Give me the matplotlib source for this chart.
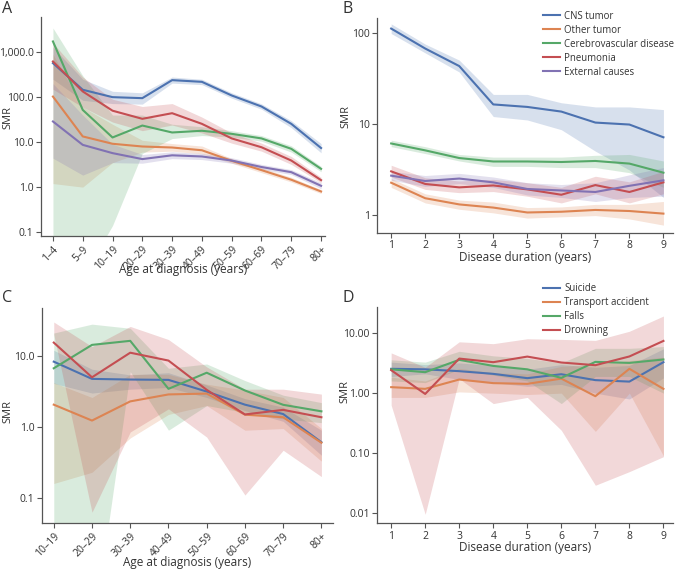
import matplotlib
matplotlib.use('Agg')
import matplotlib.pyplot as plt
import matplotlib.ticker as mticker

plt.rcParams['font.family'] = ['Open Sans', 'DejaVu Sans']
plt.rcParams['text.color'] = '#333333'
plt.rcParams['axes.labelcolor'] = '#333333'
plt.rcParams['xtick.color'] = '#333333'
plt.rcParams['ytick.color'] = '#333333'

blue = '#4C72B0'
orange = '#DD8452'
green = '#55A868'
red = '#C44E52'
purple = '#8172B3'

# panel A: cause of death by age at diagnosis
ages_a = ['1–4', '5–9', '10–19', '20–29', '30–39', '40–49', '50–59', '60–69', '70–79', '80+']
cns = [570, 146, 100, 95, 239, 219, 109, 62, 25.5, 7.4]
cns_lo = [250, 85, 72, 70, 205, 190, 95, 54, 21, 5.8]
cns_hi = [1300, 250, 135, 125, 280, 250, 125, 71, 30, 9.3]
other = [103, 13.4, 9.2, 8.0, 7.6, 6.6, 3.85, 2.39, 1.46, 0.80]
other_lo = [1.2, 1.0, 3.5, 6.0, 6.3, 5.5, 3.4, 2.1, 1.3, 0.72]
other_hi = [900, 60, 25, 11, 9.3, 8.2, 4.3, 2.7, 1.65, 0.88]
cereb = [1730, 52, 12.7, 23.4, 16.4, 17.9, 15.3, 12.1, 7.1, 2.55]
cereb_lo = [0.01, 0.01, 0.14, 5.6, 12, 14, 13, 10.5, 6.0, 2.2]
cereb_hi = [3450, 300, 40, 40, 25, 22, 18, 14, 8.3, 2.9]
pneu = [621, 134, 50, 33, 44, 25.5, 12.1, 7.7, 3.9, 1.43]
pneu_lo = [150, 60, 28, 18, 24, 16, 9.5, 6.3, 3.2, 1.25]
pneu_hi = [1600, 280, 90, 62, 72, 36, 16, 9.5, 4.8, 1.65]
ext = [28.8, 8.7, 5.7, 4.2, 5.1, 4.8, 3.9, 2.8, 2.15, 1.07]
ext_lo = [4.4, 1.85, 3.5, 3.4, 4.3, 4.1, 3.4, 2.5, 1.9, 0.92]
ext_hi = [200, 40, 9, 5.3, 6.1, 5.6, 4.5, 3.2, 2.45, 1.25]

# panel B: cause of death by disease duration
years = [1, 2, 3, 4, 5, 6, 7, 8, 9]
cns_b = [111, 67, 43, 16.3, 15.3, 13.6, 10.3, 9.8, 7.1]
cns_b_lo = [98, 60, 37, 12, 11, 8.6, 5.0, 3.1, 1.55]
cns_b_hi = [125, 75, 50, 21, 21, 17, 15.3, 15.3, 14.3]
other_b = [2.25, 1.52, 1.30, 1.2, 1.06, 1.08, 1.13, 1.1, 1.03]
other_b_lo = [2.0, 1.35, 1.15, 1.05, 0.92, 0.95, 0.98, 0.9, 0.77]
other_b_hi = [2.5, 1.7, 1.45, 1.38, 1.2, 1.22, 1.3, 1.3, 1.4]
cereb_b = [6.07, 5.1, 4.2, 3.85, 3.85, 3.8, 3.9, 3.65, 2.9]
cereb_b_lo = [5.6, 4.7, 3.9, 3.4, 3.4, 3.3, 3.3, 2.9, 2.0]
cereb_b_hi = [6.6, 5.6, 4.6, 4.3, 4.3, 4.3, 4.5, 4.6, 3.9]
pneu_b = [3.0, 2.18, 2.0, 2.1, 1.9, 1.66, 2.12, 1.78, 2.27]
pneu_b_lo = [2.6, 1.9, 1.75, 1.8, 1.6, 1.35, 1.7, 1.35, 1.7]
pneu_b_hi = [3.5, 2.55, 2.35, 2.45, 2.25, 2.0, 2.65, 2.3, 3.0]
ext_b = [2.69, 2.35, 2.5, 2.27, 1.92, 1.85, 1.78, 2.08, 2.39]
ext_b_lo = [2.4, 2.05, 2.2, 2.0, 1.65, 1.55, 1.4, 1.55, 1.6]
ext_b_hi = [3.0, 2.7, 2.85, 2.6, 2.25, 2.15, 2.25, 2.75, 3.3]

# panel C: external causes by age at diagnosis
ages_c = ['10–19', '20–29', '30–39', '40–49', '50–59', '60–69', '70–79', '80+']
suic = [8.3, 4.75, 4.65, 4.6, 3.15, 2.06, 1.52, 0.61]
suic_lo = [4.1, 3.0, 3.4, 3.6, 2.6, 1.7, 1.2, 0.4]
suic_hi = [12, 6.5, 5.4, 5.8, 3.9, 2.5, 1.9, 0.9]
trans = [2.06, 1.23, 2.29, 2.87, 2.95, 1.49, 1.37, 0.6]
trans_lo = [0.16, 0.23, 0.7, 1.5, 2.0, 0.9, 0.95, 0.33]
trans_hi = [4.2, 2.6, 5.5, 5.5, 4.0, 3.3, 2.6, 0.95]
falls = [6.7, 14.3, 16.3, 3.44, 5.8, 3.26, 2.05, 1.66]
falls_lo = [0.001, 0.001, 6, 0.9, 2.0, 1.6, 1.3, 1.15]
falls_hi = [21, 28, 24.5, 6.7, 7.7, 4.5, 2.8, 2.2]
drown = [15.4, 5.0, 11.1, 8.6, 3.33, 1.5, 1.74, 1.37]
drown_lo = [20, 0.063, 0.85, 1.8, 0.72, 0.11, 0.47, 0.2]
drown_hi = [30, 13.5, 26, 17, 7, 3.4, 3.4, 2.9]

# panel D: external causes by disease duration
suic_d = [2.55, 2.5, 2.33, 2.1, 1.78, 2.07, 1.65, 1.56, 3.29]
suic_d_lo = [1.9, 2.1, 1.7, 1.5, 1.3, 1.4, 1.0, 0.8, 1.8]
suic_d_hi = [3.3, 3.0, 3.2, 2.9, 2.5, 3.0, 2.7, 2.9, 5.5]
trans_d = [1.26, 1.18, 1.69, 1.47, 1.43, 1.75, 0.89, 2.55, 1.18]
trans_d_lo = [0.85, 0.85, 1.05, 1.0, 0.95, 1.0, 0.23, 1.0, 0.09]
trans_d_hi = [1.85, 1.6, 2.6, 2.2, 2.1, 2.8, 3.0, 3.5, 4.0]
falls_d = [2.5, 2.24, 3.6, 2.85, 2.5, 1.8, 3.33, 3.2, 3.65]
falls_d_lo = [1.6, 1.5, 2.5, 2.0, 1.6, 0.67, 1.9, 1.9, 1.0]
falls_d_hi = [3.6, 3.3, 5.0, 4.2, 3.8, 3.2, 5.6, 5.6, 6.0]
drown_d = [2.42, 0.97, 3.78, 3.29, 4.08, 3.25, 2.93, 4.1, 7.45]
drown_d_lo = [0.63, 0.0095, 1.75, 0.67, 0.85, 0.24, 0.029, 0.049, 0.087]
drown_d_hi = [4.7, 2.7, 7.2, 6.7, 8.1, 7.9, 7.6, 10.8, 19.4]

fig = plt.figure(figsize=(6.76, 5.72), dpi=100)
axA = fig.add_axes([0.0607, 0.587, 0.420, 0.383])
axB = fig.add_axes([0.558, 0.593, 0.438, 0.376])
axC = fig.add_axes([0.062, 0.0857, 0.431, 0.376])
axD = fig.add_axes([0.558, 0.0857, 0.438, 0.377])


def draw(ax, x, y, lo, hi, color, label):
    ax.fill_between(x, lo, hi, color=color, alpha=0.22, linewidth=0)
    ax.plot(x, y, color=color, lw=1.5, label=label)


def style(ax, fmt, xlabel, ylab_xy, xlab_xy):
    ax.set_yscale('log')
    ax.yaxis.set_major_formatter(mticker.FuncFormatter(fmt))
    ax.yaxis.set_minor_locator(mticker.NullLocator())
    for s in ['top', 'right']:
        ax.spines[s].set_visible(False)
    for s in ['left', 'bottom']:
        ax.spines[s].set_color('#555555')
        ax.spines[s].set_linewidth(0.9)
    ax.tick_params(labelsize=7.5, length=3.5, width=0.8, color='#555555', pad=2)
    ax.set_ylabel('SMR', fontsize=8)
    ax.set_xlabel(xlabel, fontsize=8.5)
    ax.yaxis.set_label_coords(*ylab_xy)
    ax.xaxis.set_label_coords(*xlab_xy)


leg_kw = dict(loc='upper left', frameon=False, fontsize=6.9, handlelength=1.77,
              labelspacing=0.31, handletextpad=0.4, borderaxespad=0)

# A
xa = list(range(len(ages_a)))
draw(axA, xa, cns, cns_lo, cns_hi, blue, 'CNS tumor')
draw(axA, xa, other, other_lo, other_hi, orange, 'Other tumor')
draw(axA, xa, cereb, cereb_lo, cereb_hi, green, 'Cerebrovascular disease')
draw(axA, xa, pneu, pneu_lo, pneu_hi, red, 'Pneumonia')
draw(axA, xa, ext, ext_lo, ext_hi, purple, 'External causes')
style(axA, lambda v, p: f'{v:,.1f}', 'Age at diagnosis (years)', (-0.097, 0.54), (0.5, -0.123))
axA.set_yticks([0.1, 1, 10, 100, 1000])
axA.set_ylim(0.081, 6000)
axA.set_xlim(-0.4, 9.13)
axA.set_xticks(xa)
axA.set_xticklabels(ages_a, rotation=45, ha='right', rotation_mode='anchor')

# B
draw(axB, years, cns_b, cns_b_lo, cns_b_hi, blue, 'CNS tumor')
draw(axB, years, other_b, other_b_lo, other_b_hi, orange, 'Other tumor')
draw(axB, years, cereb_b, cereb_b_lo, cereb_b_hi, green, 'Cerebrovascular disease')
draw(axB, years, pneu_b, pneu_b_lo, pneu_b_hi, red, 'Pneumonia')
draw(axB, years, ext_b, ext_b_lo, ext_b_hi, purple, 'External causes')
style(axB, lambda v, p: f'{v:.0f}', 'Disease duration (years)', (-0.086, 0.54), (0.5, -0.084))
axB.set_yticks([1, 10, 100])
axB.set_ylim(0.634, 146)
axB.set_xlim(0.59, 9.29)
axB.set_xticks(years)
axB.legend(bbox_to_anchor=(0.548, 1.05), **leg_kw)

# C
xc = list(range(len(ages_c)))
draw(axC, xc, suic, suic_lo, suic_hi, blue, 'Suicide')
draw(axC, xc, trans, trans_lo, trans_hi, orange, 'Transport accident')
draw(axC, xc, falls, falls_lo, falls_hi, green, 'Falls')
draw(axC, xc, drown, drown_lo, drown_hi, red, 'Drowning')
style(axC, lambda v, p: f'{v:.1f}', 'Age at diagnosis (years)', (-0.098, 0.52), (0.5, -0.153))
axC.set_yticks([0.1, 1, 10])
axC.set_ylim(0.0445, 47.4)
axC.set_xlim(-0.31, 7.31)
axC.set_xticks(xc)
axC.set_xticklabels(ages_c, rotation=45, ha='right', rotation_mode='anchor')

# D
draw(axD, years, suic_d, suic_d_lo, suic_d_hi, blue, 'Suicide')
draw(axD, years, trans_d, trans_d_lo, trans_d_hi, orange, 'Transport accident')
draw(axD, years, falls_d, falls_d_lo, falls_d_hi, green, 'Falls')
draw(axD, years, drown_d, drown_d_lo, drown_d_hi, red, 'Drowning')
style(axD, lambda v, p: f'{v:.2f}', 'Disease duration (years)', (-0.09, 0.61), (0.5, -0.083))
axD.set_yticks([0.01, 0.1, 1, 10])
axD.set_ylim(0.0068, 27.1)
axD.set_xlim(0.59, 9.29)
axD.set_xticks(years)
axD.legend(bbox_to_anchor=(0.548, 1.13), **leg_kw)

for lab, (x, y) in zip('ABCD', [(0.003, 0.978), (0.506, 0.978), (0.003, 0.472), (0.506, 0.472)]):
    fig.text(x, y, lab, fontsize=11.5, ha='left', va='baseline')

fig.savefig('out.png', dpi=100)
